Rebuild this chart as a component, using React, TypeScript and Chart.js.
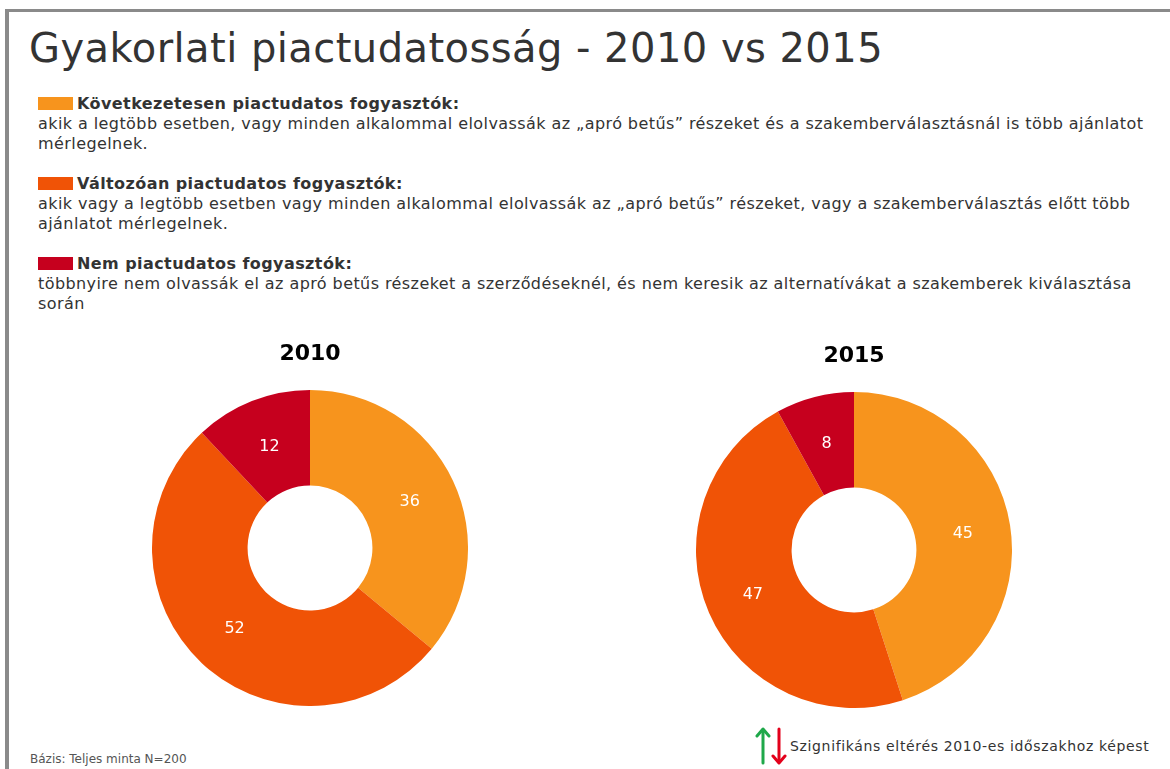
import React, { useEffect, useRef } from "react";
import { Chart, registerables } from "chart.js";

Chart.register(...registerables);

// ---- data ----
const categories = [
  "Következetesen piactudatos fogyasztók",
  "Változóan piactudatos fogyasztók",
  "Nem piactudatos fogyasztók",
];
const values2010 = [36, 52, 12];
const values2015 = [45, 47, 8];
const sliceColors = ["#F7941D", "#F05306", "#C6001E"];
const years = ["2010", "2015"];

const descriptions = [
  [
    "akik a legtöbb esetben, vagy minden alkalommal elolvassák az „apró betűs” részeket és a szakemberválasztásnál is több ajánlatot",
    "mérlegelnek.",
  ],
  [
    "akik vagy a legtöbb esetben vagy minden alkalommal elolvassák az „apró betűs” részeket, vagy a szakemberválasztás előtt több",
    "ajánlatot mérlegelnek.",
  ],
  [
    "többnyire nem olvassák el az apró betűs részeket a szerződéseknél, és nem keresik az alternatívákat a szakemberek kiválasztása",
    "során",
  ],
];

const FONT = "'DejaVu Sans', Verdana, sans-serif";

const sliceLabelPlugin = {
  id: "sliceLabels",
  afterDatasetsDraw(chart: any) {
    const ctx = chart.ctx;
    const meta = chart.getDatasetMeta(0);
    const data = chart.data.datasets[0].data;
    ctx.save();
    ctx.fillStyle = "#ffffff";
    ctx.font = "16px 'DejaVu Sans'";
    ctx.textAlign = "center";
    ctx.textBaseline = "middle";
    meta.data.forEach((arc: any, i: number) => {
      const p = arc.getCenterPoint();
      ctx.fillText(String(data[i]), p.x, p.y + 1);
    });
    ctx.restore();
  },
};

function Donut({ year, values, left, top }: { year: string; values: number[]; left: number; top: number }) {
  const ref = useRef<HTMLCanvasElement | null>(null);
  useEffect(() => {
    if (!ref.current) return;
    const chart = new Chart(ref.current, {
      type: "doughnut",
      data: {
        labels: categories,
        datasets: [
          {
            data: values,
            backgroundColor: sliceColors,
            borderWidth: 0,
            hoverOffset: 0,
          },
        ],
      },
      options: {
        responsive: false,
        animation: false,
        events: [],
        cutout: "39.5%",
        layout: { padding: 0 },
        plugins: {
          legend: { display: false },
          tooltip: { enabled: false },
          title: {
            display: true,
            text: year,
            color: "#000000",
            font: { family: "DejaVu Sans", size: 22, weight: "bold", lineHeight: 1.2 },
            padding: { top: 11, bottom: 22.6 },
          },
        },
      } as any,
      plugins: [sliceLabelPlugin],
    });
    return () => chart.destroy();
  }, []);
  return (
    <canvas
      ref={ref}
      width={316}
      height={376}
      style={{ position: "absolute", left, top, width: 316, height: 376 }}
    />
  );
}

function LegendBlock({ idx }: { idx: number }) {
  return (
    <div style={{ marginBottom: 20 }}>
      <div style={{ fontWeight: "bold", whiteSpace: "nowrap" }}>
        <span
          style={{
            display: "inline-block",
            width: 35,
            height: 13,
            background: sliceColors[idx],
            marginRight: 4,
            verticalAlign: "-1px",
          }}
        />
        {categories[idx]}:
      </div>
      {descriptions[idx].map((line, i) => (
        <div key={i} style={{ whiteSpace: "nowrap" }}>
          {line}
        </div>
      ))}
    </div>
  );
}

export default function App() {
  return (
    <div
      style={{
        position: "absolute",
        left: 0,
        top: 0,
        width: 1170,
        height: 769,
        overflow: "hidden",
        background: "#ffffff",
        fontFamily: FONT,
        color: "#333333",
      }}
    >
      <div
        style={{
          position: "absolute",
          left: 5,
          top: 9,
          width: 1300,
          height: 900,
          borderLeft: "4px solid #8a8a8a",
          borderTop: "3px solid #8a8a8a",
        }}
      />
      <div
        style={{
          position: "absolute",
          left: 29,
          top: 23,
          fontSize: 40,
          lineHeight: "50px",
          letterSpacing: "0.45px",
          whiteSpace: "nowrap",
          color: "#333333",
        }}
      >
        Gyakorlati piactudatosság - 2010 vs 2015
      </div>
      <div
        style={{
          position: "absolute",
          left: 38,
          top: 94,
          fontSize: 16,
          lineHeight: "20px",
          letterSpacing: "0.42px",
        }}
      >
        {categories.map((_, i) => (
          <LegendBlock key={i} idx={i} />
        ))}
      </div>

      <Donut year={years[0]} values={values2010} left={152} top={330} />
      <Donut year={years[1]} values={values2015} left={696} top={332} />

      <div
        style={{
          position: "absolute",
          left: 30,
          top: 751,
          fontSize: 12,
          lineHeight: "16px",
          color: "#555555",
          whiteSpace: "nowrap",
        }}
      >
        Bázis: Teljes minta N=200
      </div>

      <svg
        width={34}
        height={40}
        style={{ position: "absolute", left: 755, top: 726 }}
      >
        <g stroke="#1FA84A" strokeWidth={3} fill="none" strokeLinecap="round" strokeLinejoin="round">
          <line x1={8} y1={4} x2={8} y2={37} />
          <polyline points="2,10 8,3 14,10" />
        </g>
        <g stroke="#E3001B" strokeWidth={3} fill="none" strokeLinecap="round" strokeLinejoin="round">
          <line x1={24} y1={3} x2={24} y2={36} />
          <polyline points="18,30 24,37 30,30" />
        </g>
      </svg>
      <div
        style={{
          position: "absolute",
          left: 790,
          top: 736,
          fontSize: 14,
          lineHeight: "20px",
          letterSpacing: "0.65px",
          color: "#333333",
          whiteSpace: "nowrap",
        }}
      >
        Szignifikáns eltérés 2010-es időszakhoz képest
      </div>
    </div>
  );
}
